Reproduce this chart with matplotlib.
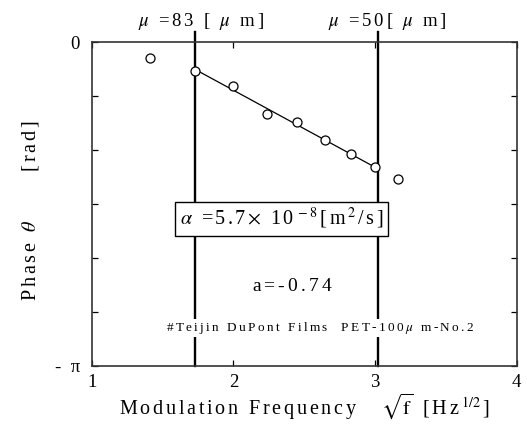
import numpy as np
import matplotlib
matplotlib.use("Agg")
import matplotlib.pyplot as plt

plt.rcParams["font.family"] = ["Liberation Serif", "DejaVu Serif"]
plt.rcParams["mathtext.fontset"] = "stix"

# sqrt(f) values and measured phase [rad]
sqrt_f = [1.414, 1.732, 2.0, 2.236, 2.449, 2.646, 2.828, 3.0, 3.162]
phase = [-0.155, -0.276, -0.422, -0.699, -0.774, -0.952, -1.088, -1.211, -1.325]

# fit range and the two thickness limit lines
fit_lo, fit_hi = 1.732, 3.0
limit_x = [1.73, 3.02]


def spaced(*parts, t=0.2):
    # wide letter spacing like the original; math parts are kept whole
    out = []
    for p in parts:
        if p.startswith("$"):
            out.append(p)
        else:
            out.extend(list(p))
    return ("$\\hspace{%g}$" % t).join(out)


fig = plt.figure(figsize=(5.27, 4.25), dpi=100)
ax = fig.add_axes([0.174, 0.1395, 0.8065, 0.761])

x = np.array(sqrt_f)
y = np.array(phase)
sel = (x >= fit_lo - 1e-6) & (x <= fit_hi + 1e-6)
k, b = np.polyfit(x[sel], y[sel], 1)
xx = np.array([fit_lo, fit_hi])
ax.plot(xx, k * xx + b, color="black", lw=0.9, zorder=2)

ax.plot(x, y, "o", ms=6.5, mfc="white", mec="black", mew=0.9, zorder=3)

for xv in limit_x:
    ax.axvline(xv, ymin=0, ymax=1.031, color="black", lw=1.7, clip_on=False, zorder=1)

ax.text(1.772, 0.163, spaced("$\\mu$", " =83 [ ", "$\\mu$", " m]", t=0.2),
        ha="center", va="baseline", fontsize=13.5)
ax.text(3.084, 0.163, spaced("$\\mu$", " =50[ ", "$\\mu$", " m]", t=0.2),
        ha="center", va="baseline", fontsize=13.5)

ax.text(2.34, -1.712,
        spaced("$\\alpha$", " =5.7", "$\\times$", " 10", "$^{\\rm -8}$", "[m", "$^{2}$", "/s]", t=0.17),
        ha="center", va="center", fontsize=14.5,
        bbox=dict(boxstyle="square,pad=0.22", fc="white", ec="black", lw=1.0), zorder=4)
ax.text(2.417, -2.377, spaced("a=-0.74", t=0.22), ha="center", va="center", fontsize=14)
ax.text(2.611, -2.775, spaced("#Teijin DuPont Films  PET-100", "$\\mu$", " m-No.2", t=0.25),
        ha="center", va="center", fontsize=9.5,
        bbox=dict(boxstyle="square,pad=0.1", fc="white", ec="none"), zorder=4)

ax.set_xlim(1, 4)
ax.set_ylim(-np.pi, 0)
ax.set_xticks([1, 2, 3, 4])
ax.set_xticklabels(["1", "2", "3", "4"])
ax.set_yticks(np.linspace(-np.pi, 0, 7))
ax.set_yticklabels(["-  π", "", "", "", "", "", "0"])
ax.tick_params(direction="in", length=4, width=0.9, top=True, right=True, labelsize=13.5)
ax.tick_params(axis="x", pad=6)
ax.tick_params(axis="y", pad=8.5)

for s in ax.spines.values():
    s.set_linewidth(1.2)
    s.set_color("#333333")

ax.set_xlabel(spaced("Modulation Frequency   ", "$\\sqrt{\\rm f}$", " [Hz", "$^{1/2}$", "]", t=0.19),
              fontsize=14.5)
ax.xaxis.set_label_coords(0.5, -0.150)
ax.xaxis.label.set_va("baseline")
ax.set_ylabel(spaced("Phase ", "$\\theta$", "      [rad]", t=0.2), fontsize=14.5)
ax.yaxis.set_label_coords(-0.145, 0.481)
ax.yaxis.label.set_va("center")

fig.savefig("out.png", dpi=100)
